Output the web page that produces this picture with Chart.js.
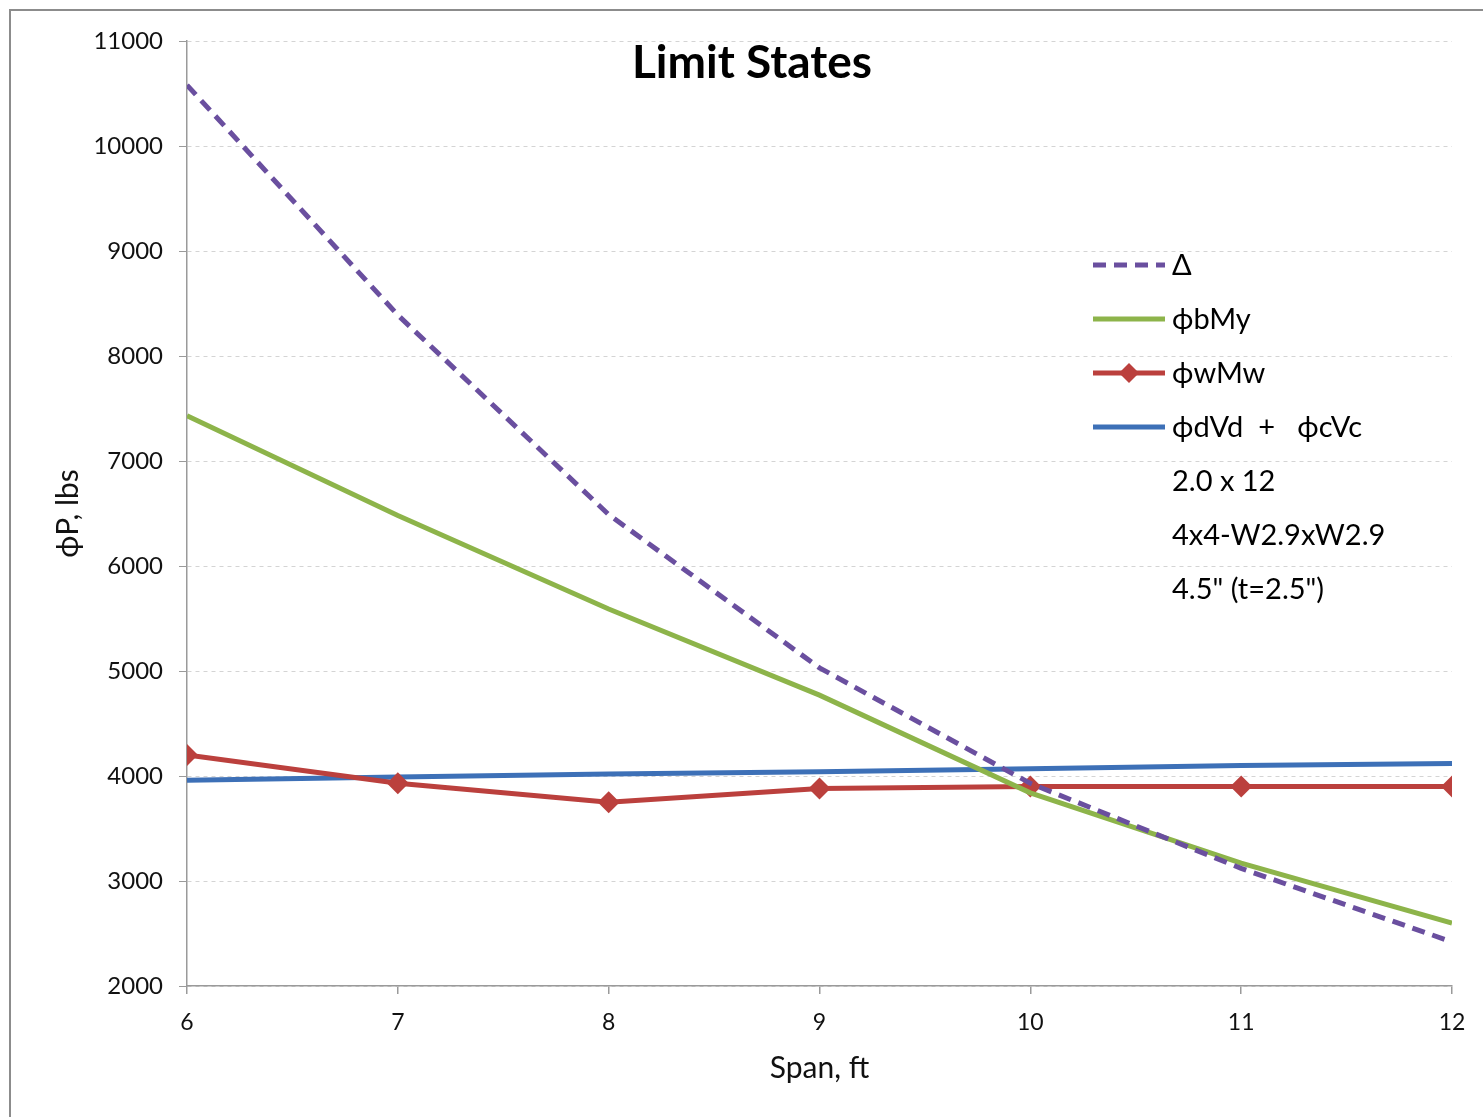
<!DOCTYPE html>
<html lang="en">
<head>
<meta charset="UTF-8">
<title>Limit States</title>
<script src="https://cdn.jsdelivr.net/npm/chart.js"></script>
<style>
    html, body { margin: 0; padding: 0; background: #fff; overflow: hidden; }
    /* grey frame of the chart object, only left and top edges are visible */
    #frame { position: absolute; left: 9px; top: 9px; width: 1600px; height: 1300px; border: 2px solid #8c8c8c; }
    #wrap { position: absolute; left: 0; top: 0; width: 1483px; height: 1117px; }
</style>
</head>
<body>
<div id="frame"></div>
<div id="wrap"><canvas id="limitChart" width="1483" height="1117"></canvas></div>

<script>
    // values
    const spans = [6, 7, 8, 9, 10, 11, 12];
    const deflection = [10580, 8390, 6490, 5030, 3930, 3120, 2420];
    const bendingMy = [7430, 6480, 5590, 4770, 3840, 3170, 2600];
    const weldMw = [4200, 3930, 3750, 3880, 3900, 3900, 3900];
    const shearV = [3960, 3990, 4020, 4040, 4070, 4100, 4120];

    const seriesNames = ['Δ', 'ϕbMy', 'ϕwMw', 'ϕdVd  +   ϕcVc'];
    const noteLines = ['2.0 x 12', '4x4-W2.9xW2.9', '4.5" (t=2.5")'];

    const colors = ['#6a4f9f', '#8db44a', '#bb403d', '#3d70b7'];
    const FONT = 'Lato, "Open Sans", "DejaVu Sans", sans-serif';

    const toPoints = vals => vals.map((v, i) => ({ x: spans[i], y: v }));

    // draws the title and the legend block inside the plot area
    const overlay = {
        id: 'overlay',
        afterDraw(chart) {
            const ctx = chart.ctx;
            const area = chart.chartArea;
            ctx.save();
            ctx.fillStyle = '#000';
            ctx.textAlign = 'center';
            ctx.textBaseline = 'middle';
            ctx.font = 'bold 46px ' + FONT;
            ctx.fillText('Limit States', 752, 63);

            const lx = area.right - 359, ly = area.top + 224, row = 54;
            ctx.textAlign = 'left';
            ctx.font = '29px ' + FONT;
            seriesNames.forEach((name, i) => {
                const y = ly + i * row;
                const ds = chart.data.datasets[i];
                ctx.strokeStyle = ds.borderColor;
                ctx.lineWidth = ds.borderWidth;
                ctx.setLineDash(ds.borderDash || []);
                ctx.beginPath();
                ctx.moveTo(lx, y);
                ctx.lineTo(lx + 72, y);
                ctx.stroke();
                ctx.setLineDash([]);
                if (ds.pointRadius > 0) {
                    ctx.fillStyle = ds.borderColor;
                    ctx.beginPath();
                    ctx.moveTo(lx + 36 - 10, y);
                    ctx.lineTo(lx + 36, y - 10);
                    ctx.lineTo(lx + 36 + 10, y);
                    ctx.lineTo(lx + 36, y + 10);
                    ctx.closePath();
                    ctx.fill();
                }
                ctx.fillStyle = '#000';
                ctx.fillText(name, lx + 79, y + 1);
            });
            noteLines.forEach((t, i) => {
                ctx.fillText(t, lx + 79, ly + (seriesNames.length + i) * row + 1);
            });
            ctx.restore();
        }
    };

    const ctx = document.getElementById('limitChart').getContext('2d');
    new Chart(ctx, {
        type: 'line',
        data: {
            datasets: [
                { label: seriesNames[0], data: toPoints(deflection), borderColor: colors[0], borderWidth: 5,
                  borderDash: [13, 8], pointRadius: 0, tension: 0 },
                { label: seriesNames[1], data: toPoints(bendingMy), borderColor: colors[1], borderWidth: 5,
                  pointRadius: 0, tension: 0 },
                { label: seriesNames[2], data: toPoints(weldMw), borderColor: colors[2], backgroundColor: colors[2],
                  borderWidth: 5, pointStyle: 'rectRot', pointRadius: 11, pointBorderWidth: 0, tension: 0 },
                { label: seriesNames[3], data: toPoints(shearV), borderColor: colors[3], borderWidth: 5,
                  pointRadius: 0, tension: 0 }
            ]
        },
        options: {
            responsive: false,
            animation: false,
            devicePixelRatio: 1,
            layout: { padding: { left: 10, top: 41, right: 31, bottom: 0 } },
            plugins: {
                legend: { display: false },
                tooltip: { enabled: false }
            },
            scales: {
                x: {
                    type: 'linear',
                    min: 6,
                    max: 12,
                    ticks: { stepSize: 1, color: '#111', font: { family: FONT, size: 23 }, padding: 15 },
                    grid: { drawOnChartArea: false, color: '#9a9a9a', tickLength: 8, lineWidth: 1.5 },
                    border: { color: '#9a9a9a', width: 1.5 },
                    title: { display: true, text: 'Span, ft', color: '#111',
                             font: { family: FONT, size: 30 }, padding: { top: 0, bottom: 31 } },
                    afterFit(scale) { scale.height = 131; }
                },
                y: {
                    min: 2000,
                    max: 11000,
                    ticks: { stepSize: 1000, color: '#111', font: { family: FONT, size: 24 }, padding: 16,
                             callback: v => String(v) },
                    grid: { color: '#d4d4d4', tickBorderDash: [], tickColor: '#9a9a9a', tickLength: 8 },
                    border: { color: '#9a9a9a', width: 1.5, dash: [4, 4] },
                    title: { display: true, text: 'ϕP, lbs', color: '#111',
                             font: { family: FONT, size: 30 }, padding: { top: 40, bottom: 0 } },
                    afterFit(scale) { scale.width = 177; }
                }
            }
        },
        plugins: [overlay]
    });
</script>
</body>
</html>
